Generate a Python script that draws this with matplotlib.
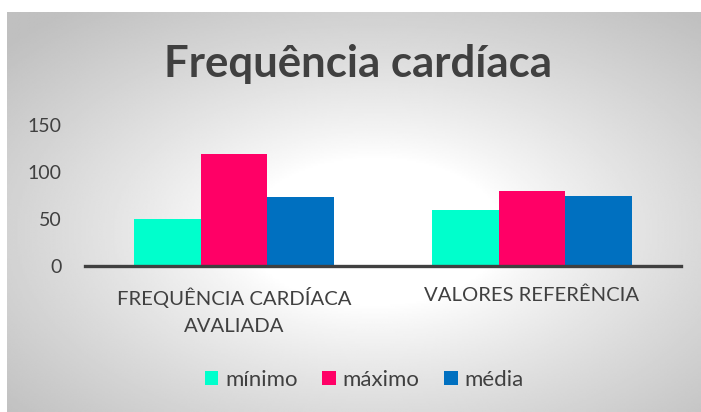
import numpy as np
import matplotlib
matplotlib.use("Agg")
import matplotlib.pyplot as plt

## DATA
categories = ["FREQUÊNCIA CARDÍACA\nAVALIADA", "VALORES REFERÊNCIA"]
series_names = ["mínimo", "máximo", "média"]
minimo = [50, 60]
maximo = [119, 80]
media = [73, 75]
y_ticks = [0, 50, 100, 150]

## STYLE
# #00FFCC: aqua, #FF0066: pink, #0070C0: blue
colors = ["#00FFCC", "#FF0066", "#0070C0"]
text_color = "#404040"
plt.rcParams["font.family"] = ["Lato", "DejaVu Sans"]

W, H = 701, 412
fig = plt.figure(figsize=(W / 100, H / 100), dpi=100)
fig.patch.set_facecolor("white")

# radial gradient background of the chart frame
bg = fig.add_axes([7 / W, 0, 1 - 7 / W, 1 - 12 / H], zorder=0)
xx, yy = np.meshgrid(np.linspace(0, 1, 400), np.linspace(0, 1, 240))
cx, cy = 0.53, 0.55
r = np.sqrt(((xx - cx) / 0.5) ** 2 + ((yy - cy) / 0.5) ** 2) / np.sqrt(2)
shade = 1 - 0.25 * np.clip((r - 0.26) / 0.75, 0, 1) ** 0.85
bg.imshow(shade, cmap="gray", vmin=0, vmax=1, aspect="auto",
          extent=[0, 1, 0, 1], origin="upper", interpolation="bilinear")
bg.set_axis_off()

# plot area
left, right, top, bottom = 85, 681, 125, 266
ax = fig.add_axes([left / W, 1 - bottom / H, (right - left) / W, (bottom - top) / H], zorder=1)
ax.patch.set_alpha(0)

x = np.arange(len(categories))
width = 0.223
for i, (vals, name) in enumerate(zip([minimo, maximo, media], series_names)):
    ax.bar(x + (i - 1) * width, vals, width, color=colors[i], label=name, zorder=2)

ax.set_xlim(-0.5, len(categories) - 0.5)
ax.set_ylim(0, 150)
ax.set_yticks(y_ticks)
ax.set_xticks(x)
ax.set_xticklabels(categories, fontsize=14.6, color=text_color, linespacing=1.75,
                   ha="center", multialignment="center")
ax.tick_params(axis="y", length=0, labelsize=14, labelcolor=text_color, pad=17)
ax.tick_params(axis="x", length=0, labelcolor=text_color, pad=15)
for side in ["top", "right", "left"]:
    ax.spines[side].set_visible(False)
ax.spines["bottom"].set_color("#404040")
ax.spines["bottom"].set_linewidth(2.4)
ax.spines["bottom"].set_zorder(3)

fig.text(358 / W, 1 - 64 / H, "Frequência cardíaca", ha="center", va="center",
         fontsize=31.5, fontweight="bold", color=text_color)

fig.legend(loc="center", bbox_to_anchor=(364 / W, 1 - 380 / H), ncol=3,
           frameon=False, fontsize=16, labelcolor=text_color,
           handlelength=0.62, handleheight=0.62, handletextpad=0.3,
           columnspacing=1.1)

fig.savefig("out.png", dpi=100)
